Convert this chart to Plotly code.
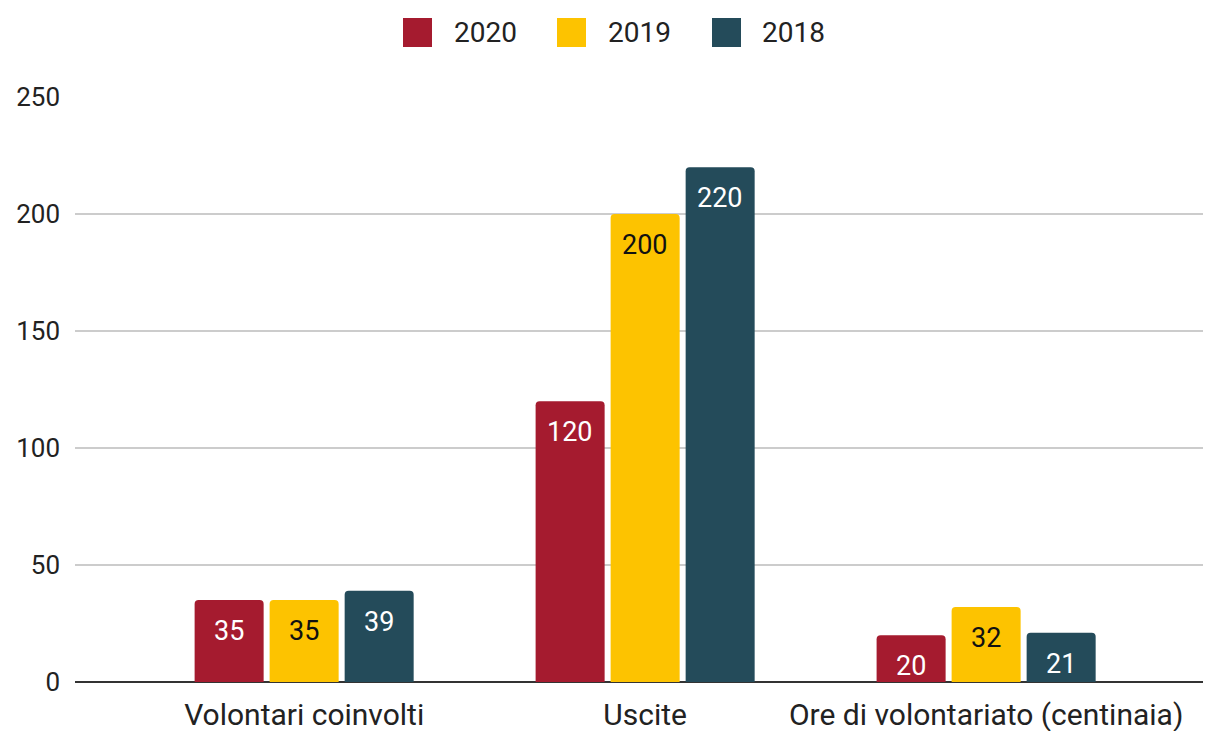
import plotly.graph_objects as go

# Data
categories = ["Volontari coinvolti", "Uscite", "Ore di volontariato (centinaia)"]
years = ["2020", "2019", "2018"]
values_2020 = [35, 120, 20]
values_2019 = [35, 200, 32]
values_2018 = [39, 220, 21]
y_ticks = [0, 50, 100, 150, 200, 250]

series = [
    ("2020", values_2020, "#a51b2f", "#ffffff"),
    ("2019", values_2019, "#fdc300", "#111111"),
    ("2018", values_2018, "#244b5a", "#ffffff"),
]

FONT = "Roboto"
W, H = 1205, 731
# plot area in pixels
L, R, T, B = 75, 1203, 97, 682


def px_x(p):
    return (p - L) / (R - L)


def px_y(p):
    return (B - p) / (B - T)


fig = go.Figure()
for name, vals, color, _ in series:
    fig.add_trace(go.Bar(
        name=name, x=categories, y=vals,
        marker=dict(color=color, line=dict(width=0), cornerradius=4),
        showlegend=False,
    ))

# value labels just below the top of each bar
bar_step = 75
annotations = []
for i, (name, vals, color, tcolor) in enumerate(series):
    for cat, v in zip(categories, vals):
        annotations.append(dict(
            x=cat, y=v, xref="x", yref="y", text=str(v), showarrow=False,
            xshift=(i - 1) * bar_step, yshift=-13, yanchor="top",
            font=dict(family=FONT, size=27, color=tcolor),
        ))

# legend drawn as swatches + labels above the plot
legend_items = [("2020", 403, 452), ("2019", 557, 606), ("2018", 712, 760)]
shapes = []
for (label, sx, tx), (_, _, color, _) in zip(legend_items, series):
    shapes.append(dict(
        type="rect", xref="paper", yref="paper",
        x0=px_x(sx), x1=px_x(sx + 29), y0=px_y(47), y1=px_y(18),
        fillcolor=color, line=dict(width=0),
    ))
    annotations.append(dict(
        x=px_x(tx), y=px_y(33), xref="paper", yref="paper", text=label,
        showarrow=False, xanchor="left", yanchor="middle",
        font=dict(family=FONT, size=28, color="#222222"),
    ))

fig.update_layout(
    width=W, height=H,
    margin=dict(l=L, r=W - R, t=T, b=H - B, pad=0, autoexpand=False),
    paper_bgcolor="white", plot_bgcolor="white",
    barmode="group", bargap=0.34, bargroupgap=0.08,
    showlegend=False,
    font=dict(family=FONT, size=26, color="#222222"),
    annotations=annotations, shapes=shapes,
)
fig.update_xaxes(
    type="category", range=[-0.672, 2.636],
    showgrid=False, showline=False, ticks="", automargin=False,
    tickfont=dict(family=FONT, size=30, color="#222222"),
    ticklabelstandoff=12,
)
fig.update_yaxes(
    range=[0, 250], tickvals=y_ticks, automargin=False,
    showgrid=True, gridcolor="#cccccc", gridwidth=1.5,
    zeroline=True, zerolinecolor="#333333", zerolinewidth=2,
    showline=False, ticks="",
    tickfont=dict(family=FONT, size=26, color="#222222"),
    ticklabelstandoff=14,
)

fig.write_html("out.html")
